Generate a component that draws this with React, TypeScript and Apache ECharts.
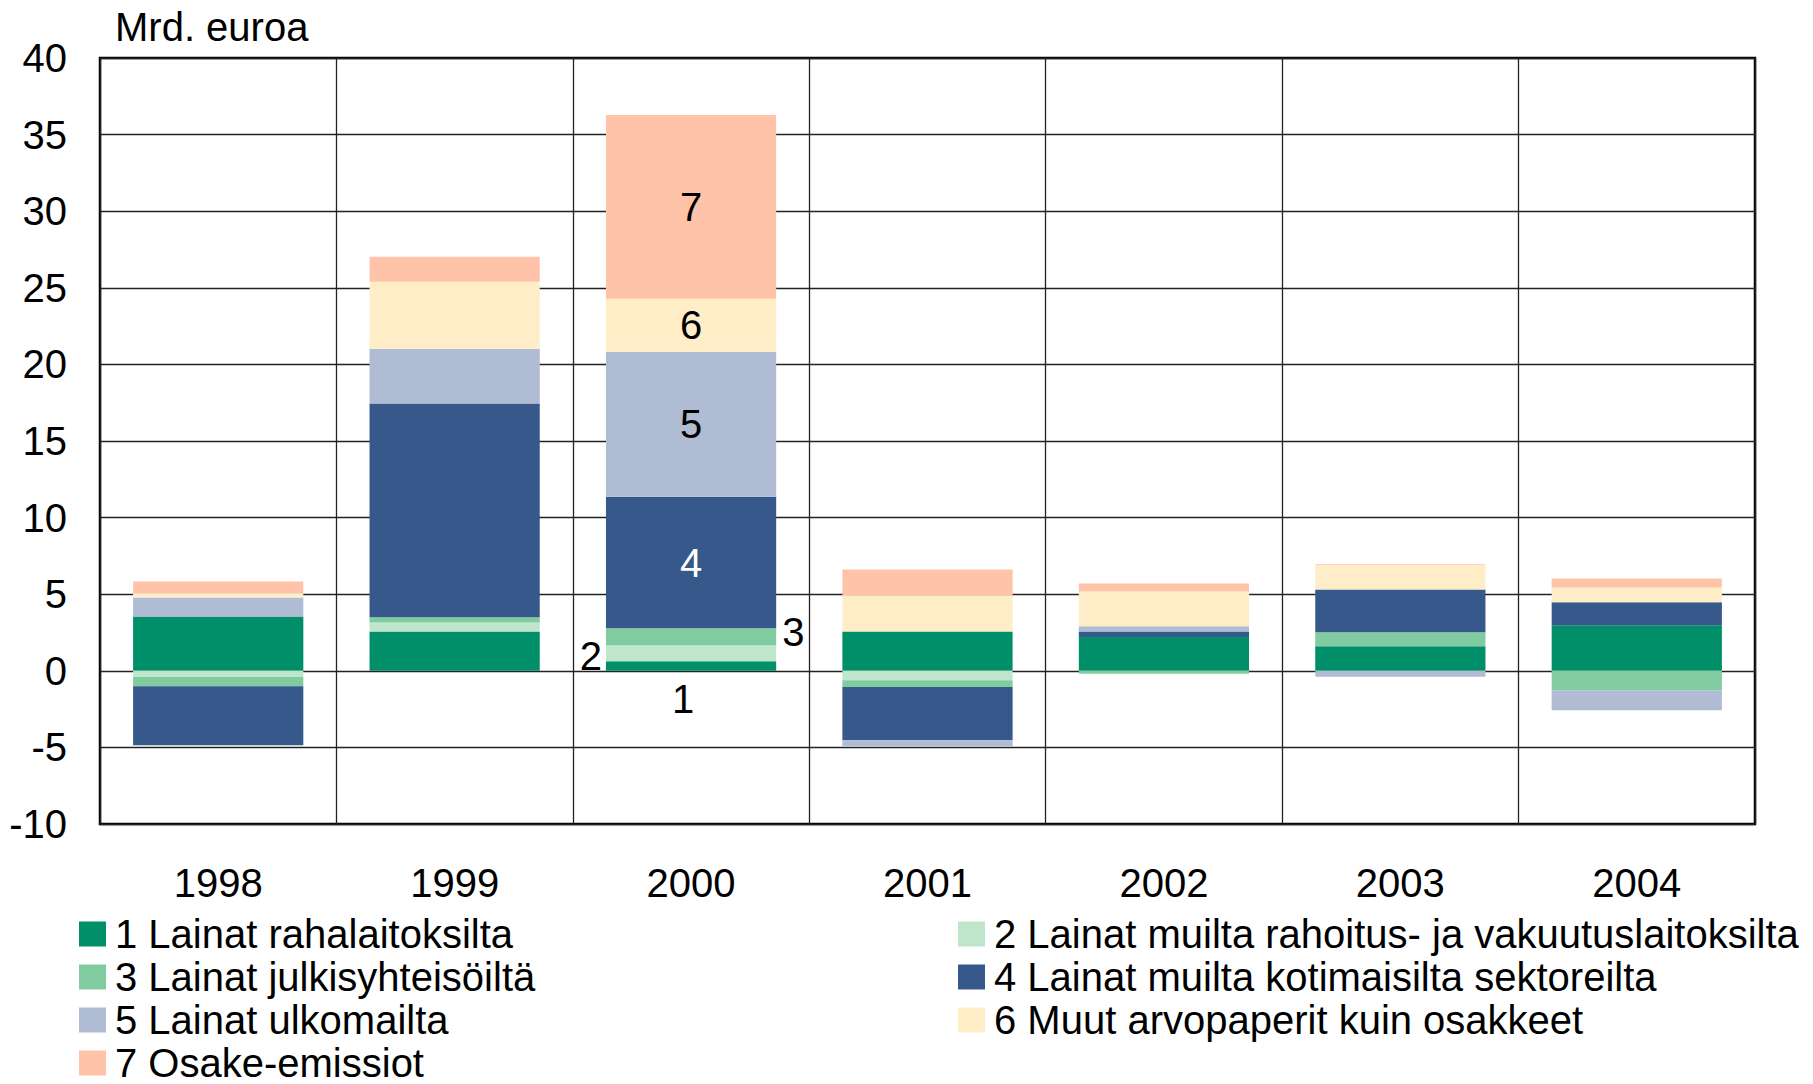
import React, { useEffect, useRef } from "react";
import * as echarts from "echarts";

const categories = ["1998", "1999", "2000", "2001", "2002", "2003", "2004"];

const seriesNames = [
  "1 Lainat rahalaitoksilta",
  "2 Lainat muilta rahoitus- ja vakuutuslaitoksilta",
  "3 Lainat julkisyhteisöiltä",
  "4 Lainat muilta kotimaisilta sektoreilta",
  "5 Lainat ulkomailta",
  "6 Muut arvopaperit kuin osakkeet",
  "7 Osake-emissiot",
];

const s1 = [3.55, 2.57, 0.62, 2.57, 2.2, 1.6, 2.97];
const s2 = [-0.4, 0.59, 1.04, -0.62, 0, 0, 0];
const s3 = [-0.61, 0.33, 1.11, -0.43, -0.2, 0.91, -1.27];
const s4 = [-3.85, 13.95, 8.59, -3.48, 0.37, 2.8, 1.5];
const s5 = [1.24, 3.58, 9.47, -0.39, 0.33, -0.39, -1.31];
const s6 = [0.28, 4.37, 3.45, 2.35, 2.28, 1.59, 0.97];
const s7 = [0.76, 1.63, 12.0, 1.7, 0.52, 0.05, 0.59];

const seriesValues = [s1, s2, s3, s4, s5, s6, s7];

const colors = ["#008F68", "#BFE6CB", "#80CBA0", "#36588B", "#B0BBD4", "#FFEDC8", "#FEC3A9"];

const yAxisTitle = "Mrd. euroa";
const labelledCategory = "2000";

const FONT = "'Liberation Sans', Arial, Helvetica, sans-serif";
const FS = 40;

// label placement style for each series on the labelled bar
const labelStyles: any[] = [
  { position: "bottom", distance: 8, offset: [-8, 0], color: "#000" },
  { position: "left", distance: 4, offset: [0, 3], color: "#000" },
  { position: "right", distance: 6, offset: [0, -5], color: "#000" },
  { position: "inside", color: "#fff" },
  { position: "inside", color: "#000" },
  { position: "inside", color: "#000" },
  { position: "inside", color: "#000" },
];

// legend layout: two columns, row pitch
const legendColLeft = [79, 958];
const legendFirstRowTop = 914;
const legendRowPitch = 43;

export default function App() {
  const ref = useRef<HTMLDivElement>(null);

  useEffect(() => {
    document.body.style.margin = "0";
    document.body.style.overflow = "hidden";
    if (!ref.current) return;
    const chart = echarts.init(ref.current, undefined, { renderer: "svg" });
    const labelIdx = categories.indexOf(labelledCategory);

    const series = seriesValues.map((vals, i) => ({
      name: seriesNames[i],
      type: "bar",
      stack: "total",
      barWidth: "72%",
      itemStyle: { color: colors[i] },
      data: vals.map((v, j) =>
        j === labelIdx
          ? {
              value: v,
              label: {
                show: true,
                formatter: String(i + 1),
                fontSize: FS,
                fontFamily: FONT,
                ...labelStyles[i],
              },
            }
          : v
      ),
    }));

    const legends = seriesNames.map((name, i) => ({
      left: legendColLeft[i % 2],
      top: legendFirstRowTop + Math.floor(i / 2) * legendRowPitch,
      itemWidth: 27,
      itemHeight: 25,
      icon: "rect",
      selectedMode: false,
      padding: 0,
      data: [name],
      textStyle: {
        fontSize: FS,
        fontFamily: FONT,
        color: "#000",
        padding: [0, 0, 0, 4],
      },
    }));

    chart.setOption({
      animation: false,
      backgroundColor: "#fff",
      grid: {
        left: 100,
        right: 58,
        top: 58,
        bottom: 260,
        show: true,
        borderColor: "#000",
        borderWidth: 2.5,
        backgroundColor: "transparent",
      },
      legend: legends,
      xAxis: {
        type: "category",
        data: categories,
        axisLine: { show: false },
        axisTick: { show: false },
        axisLabel: {
          fontSize: FS,
          fontFamily: FONT,
          color: "#000",
          margin: 39,
        },
        splitLine: { show: true, interval: 0, lineStyle: { color: "#222", width: 1.3 } },
      },
      yAxis: {
        type: "value",
        min: -10,
        max: 40,
        interval: 5,
        axisLine: { show: false },
        axisTick: { show: false },
        axisLabel: {
          fontSize: FS,
          fontFamily: FONT,
          color: "#000",
          margin: 33,
        },
        splitLine: { show: true, lineStyle: { color: "#222", width: 1.3 } },
      },
      graphic: [
        {
          type: "text",
          left: 115,
          top: 7,
          style: {
            text: yAxisTitle,
            font: `${FS}px ${FONT}`,
            fill: "#000",
          },
        },
      ],
      series,
    });

    return () => chart.dispose();
  }, []);

  return <div ref={ref} style={{ width: 1813, height: 1084 }} />;
}
